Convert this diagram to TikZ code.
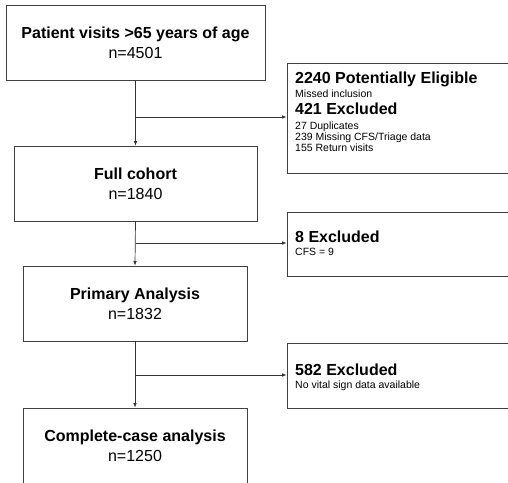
\documentclass[tikz,border=0pt]{standalone}
\usepackage{fontspec}
\setmainfont{Liberation Sans}
\usetikzlibrary{arrows.meta}
\newcommand{\extitle}[1]{{\fontsize{16}{17}\selectfont\bfseries #1}}
\newcommand{\exfont}{\fontsize{10.5}{11}\selectfont\lineskiplimit=-100pt\relax}
\tikzset{
  mainbox/.style={draw=black!75, line width=0.8pt, rectangle, minimum height=75pt, align=center, inner sep=0pt,
    font=\fontsize{16}{20}\selectfont},
  exbox/.style={draw=black!75, line width=0.8pt, rectangle, minimum width=233pt, inner sep=0pt},
  extext/.style={anchor=base west, align=left, inner sep=0pt, font=\exfont},
  flow/.style={draw=black!80, line width=0.7pt, -{Latex[length=4.5pt,width=3.5pt]}},
}
\begin{document}
\begin{tikzpicture}[x=1pt,y=-1pt]
\useasboundingbox (0,0) rectangle (508,482);
\clip (0,0) rectangle (508,482);
\node[mainbox, minimum width=259pt] (b1) at (135.5,42.5) {\textbf{Patient visits >65 years of age}\\n=4501};
\node[mainbox, minimum width=243pt] (b2) at (135.5,183.5) {\textbf{Full cohort}\\n=1840};
\node[mainbox, minimum width=224pt] (b3) at (135,303.5) {\textbf{Primary Analysis}\\n=1832};
\node[mainbox, minimum width=224pt] (b4) at (135,445.5) {\textbf{Complete-case analysis}\\n=1250};
\node[exbox, minimum height=110pt] (e1) at (403.5,118) {};
\node[exbox, minimum height=64pt] (e2) at (403.5,244) {};
\node[exbox, minimum height=65pt] (e3) at (403.5,375.5) {};
\node[extext] (t1) at (295,151) {\extitle{2240 Potentially Eligible}\\[3pt]
Missed inclusion\\[6pt]
\extitle{421 Excluded}\\[3.7pt]
27 Duplicates\\
239 Missing CFS/Triage data\\
155 Return visits};
\node[extext] (t2) at (295,255) {\extitle{8 Excluded}\\[1.5pt]CFS = 9};
\node[extext] (t3) at (295,388.3) {\extitle{582 Excluded}\\[1.5pt]No vital sign data available};
\coordinate (j1) at (135.5,117);
\coordinate (j2) at (135.5,243);
\coordinate (j3) at (135,375);
\draw[flow] (b1.south) -- (b2.north);
\draw[flow] (b2.south) -- (b3.north);
\draw[flow] (b3.south) -- (b4.north);
\draw[flow] (j1) -- (j1 -| e1.west);
\draw[flow] (j2) -- (j2 -| e2.west);
\draw[flow] (j3) -- (j3 -| e3.west);
\end{tikzpicture}
\end{document}
